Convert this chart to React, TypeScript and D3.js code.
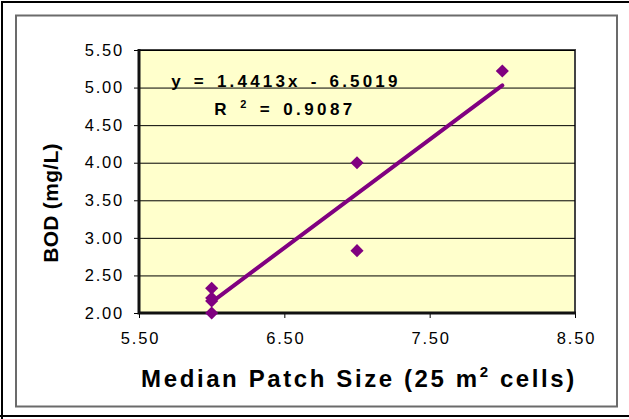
// @ts-nocheck
import React from "react";
import * as d3 from "d3";

// BOD vs median patch size
const patchSize = [6, 6, 6, 6, 7, 7, 8];
const bod = [2.0, 2.16, 2.2, 2.33, 2.83, 4.0, 5.22];
const xTicks = [5.5, 6.5, 7.5, 8.5];
const yTicks = [2.0, 2.5, 3.0, 3.5, 4.0, 4.5, 5.0, 5.5];
const slope = 1.4413;
const intercept = -6.5019;
const rSquared = "0.9087";

const App = () => {
  const svgRef = React.useRef(null);
  const width = 629;
  const height = 419;
  const plot = { left: 139, top: 50, right: 575, bottom: 313 };

  React.useEffect(() => {
    const svg = d3.select(svgRef.current);
    svg.selectAll("*").remove();

    const x = d3.scaleLinear().domain([5.5, 8.5]).range([plot.left, plot.right]);
    const y = d3.scaleLinear().domain([2.0, 5.5]).range([plot.bottom, plot.top]);

    // outer frames
    svg.append("rect").attr("x", 0).attr("y", 0).attr("width", width).attr("height", height).attr("fill", "white");
    svg.append("path")
      .attr("d", `M2,${height} L2,2 L${width},2 M0,416 L${width},416`)
      .attr("fill", "none").attr("stroke", "black").attr("stroke-width", 2);
    svg.append("rect")
      .attr("x", 16).attr("y", 15.5).attr("width", 601).attr("height", 391)
      .attr("fill", "none").attr("stroke", "#6b6b6b").attr("stroke-width", 2);

    // plot area
    svg.append("rect")
      .attr("x", plot.left).attr("y", plot.top)
      .attr("width", plot.right - plot.left).attr("height", plot.bottom - plot.top)
      .attr("fill", "#ffffcc").attr("stroke", "#444").attr("stroke-width", 2);

    // Y grid + ticks
    const yAxis = d3.axisLeft(y)
      .tickValues(yTicks)
      .tickSize(-(plot.right - plot.left) - 5)
      .tickPadding(12)
      .tickFormat(d3.format(".2f"));
    const yAxisGroup = svg.append("g")
      .attr("transform", `translate(${plot.left - 5},0)`)
      .call(yAxis);
    yAxisGroup.select(".domain").remove();
    yAxisGroup.selectAll("line").attr("stroke", "black").attr("stroke-width", 1);
    yAxisGroup.selectAll("text")
      .attr("fill", "black")
      .attr("font-family", "Liberation Sans, Arial, sans-serif")
      .attr("font-size", 16.5)
      .attr("letter-spacing", 1.8)
      .attr("dx", 2);

    // X ticks
    const xAxis = d3.axisBottom(x)
      .tickValues(xTicks)
      .tickSize(5)
      .tickPadding(14)
      .tickFormat(d3.format(".2f"));
    const xAxisGroup = svg.append("g")
      .attr("transform", `translate(0,${plot.bottom})`)
      .call(xAxis);
    xAxisGroup.select(".domain").remove();
    xAxisGroup.selectAll("line").attr("stroke", "black");
    xAxisGroup.selectAll("text")
      .attr("fill", "black")
      .attr("font-family", "Liberation Sans, Arial, sans-serif")
      .attr("font-size", 16.5)
      .attr("letter-spacing", 1.8)
      .attr("dx", 1);

    // axis lines (left + bottom)
    svg.append("path")
      .attr("d", `M${plot.left},${plot.top - 1} L${plot.left},${plot.bottom} L${plot.right + 1},${plot.bottom}`)
      .attr("fill", "none").attr("stroke", "#111").attr("stroke-width", 3);

    // trendline
    const line = d3.line().x((d) => x(d)).y((d) => y(slope * d + intercept));
    svg.append("path")
      .attr("d", line([d3.min(patchSize), d3.max(patchSize)]))
      .attr("fill", "none")
      .attr("stroke", "#800080")
      .attr("stroke-width", 4)
      .attr("stroke-linecap", "round");

    // points
    const diamond = d3.symbol().type(d3.symbolDiamond2).size(110);
    svg.append("g")
      .selectAll("path")
      .data(patchSize.map((p, i) => [p, bod[i]]))
      .enter()
      .append("path")
      .attr("d", diamond)
      .attr("transform", (d) => `translate(${x(d[0])},${y(d[1])})`)
      .attr("fill", "#800080");

    // equation label
    const eq = svg.append("g")
      .attr("font-family", "Liberation Sans, Arial, sans-serif")
      .attr("font-weight", "bold")
      .attr("font-size", 17)
      .attr("fill", "black")
      .attr("text-anchor", "middle");
    eq.append("text")
      .attr("x", 286).attr("y", 87)
      .attr("letter-spacing", 3.2)
      .attr("word-spacing", 2)
      .text(`y = ${slope}x - ${Math.abs(intercept)}`);
    const r2 = eq.append("text")
      .attr("x", 285).attr("y", 115)
      .attr("letter-spacing", 3.4)
      .attr("word-spacing", 2);
    r2.append("tspan").text("R ");
    r2.append("tspan").attr("font-size", 11).attr("dy", -7).text("2");
    r2.append("tspan").attr("dy", 7).text(` = ${rSquared}`);

    // axis titles
    svg.append("text")
      .attr("transform", `translate(58,203) rotate(-90)`)
      .attr("text-anchor", "middle")
      .attr("font-family", "Liberation Sans, Arial, sans-serif")
      .attr("font-weight", "bold")
      .attr("font-size", 21)
      .attr("letter-spacing", 0.3)
      .attr("fill", "black")
      .text("BOD (mg/L)");

    const xt = svg.append("text")
      .attr("x", 359).attr("y", 387)
      .attr("text-anchor", "middle")
      .attr("font-family", "Liberation Sans, Arial, sans-serif")
      .attr("font-weight", "bold")
      .attr("font-size", 24)
      .attr("letter-spacing", 2.6)
      .attr("fill", "black");
    xt.append("tspan").text("Median Patch Size (25 m");
    xt.append("tspan").attr("font-size", 15).attr("dy", -10).text("2");
    xt.append("tspan").attr("dy", 10).text(" cells)");
  }, []);

  return (
    <div style={{ position: "absolute", left: 0, top: 0 }}>
      <svg ref={svgRef} width={width} height={height} />
    </div>
  );
};

export default App;
